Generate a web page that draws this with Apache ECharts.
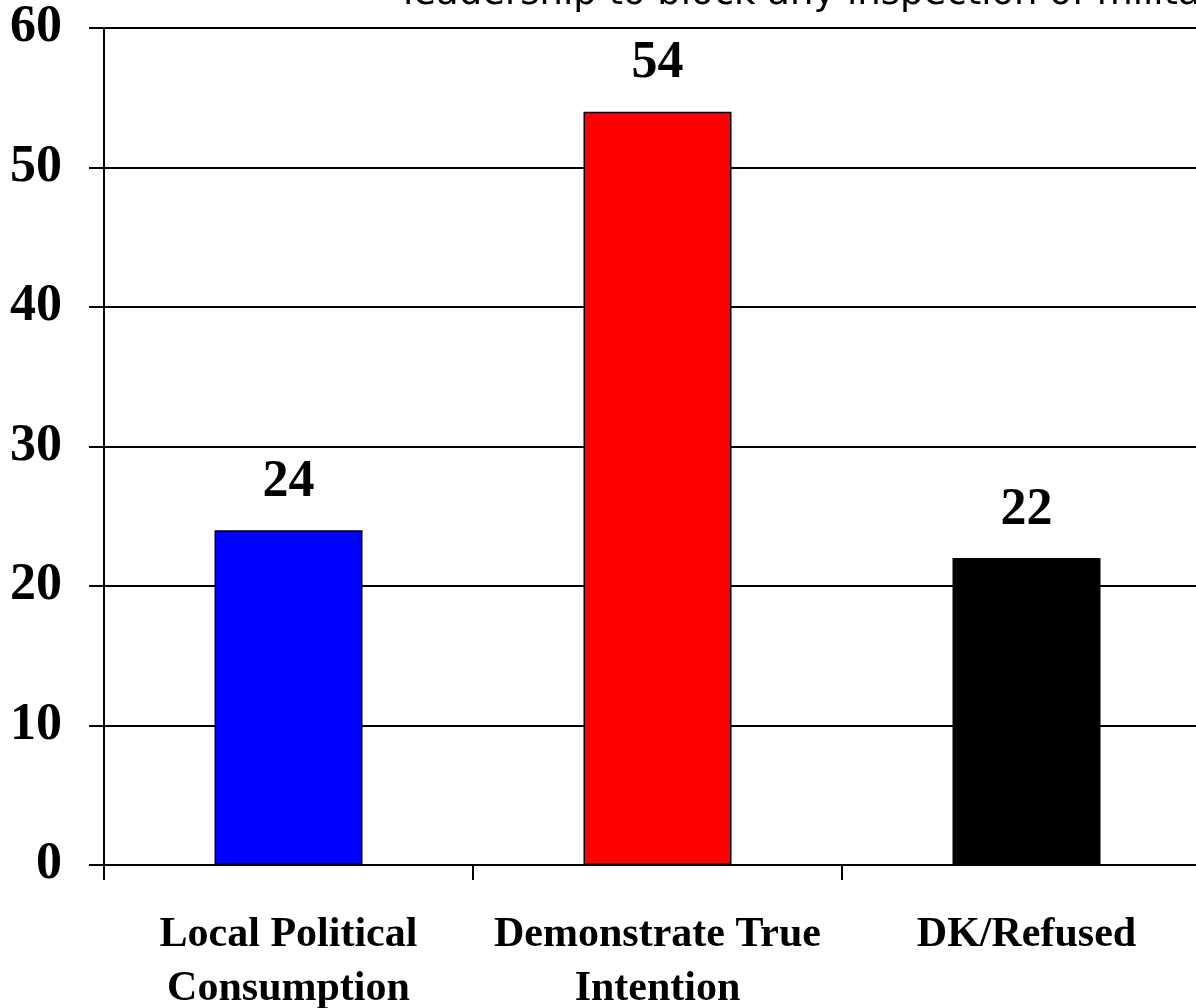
<!DOCTYPE html>
<html>
<head>
<meta charset="utf-8">
<script src="https://cdn.jsdelivr.net/npm/echarts@6/dist/echarts.min.js"></script>
<style>
html,body{margin:0;padding:0;background:#fff;}
#c{width:1196px;height:1008px;}
</style>
</head>
<body>
<div id="c"></div>
<script>
const categories = ['Local Political\nConsumption', 'Demonstrate True\nIntention', 'DK/Refused'];
const values = [24, 54, 22];
const barColors = ['#0000ff', '#ff0000', '#000000'];
const yTicks = [0, 10, 20, 30, 40, 50, 60];
const titleText = 'leadership to block any inspection of military sites';

const chart = echarts.init(document.getElementById('c'), null, {renderer: 'canvas'});
const serif = '"Liberation Serif", "Times New Roman", serif';
chart.setOption({
  animation: false,
  backgroundColor: '#ffffff',
  graphic: [{
    type: 'text',
    left: 403,
    top: -24,
    style: {
      text: titleText,
      font: '37px "DejaVu Sans", sans-serif',
      fill: '#000'
    }
  }],
  grid: {left: 104, top: 28, width: 1107, bottom: 143, containLabel: false, outerBoundsMode: 'none'},
  xAxis: {
    type: 'category',
    data: categories,
    axisLine: {lineStyle: {color: '#000', width: 2}},
    axisTick: {show: true, length: 15, alignWithLabel: false, lineStyle: {color: '#000', width: 2}},
    axisLabel: {
      color: '#000', fontFamily: serif, fontWeight: 'bold', fontSize: 42,
      lineHeight: 54, margin: 43, interval: 0
    }
  },
  yAxis: {
    type: 'value',
    min: 0, max: 60, interval: 10,
    axisLine: {show: true, lineStyle: {color: '#000', width: 2}},
    axisTick: {show: true, length: 15, lineStyle: {color: '#000', width: 2}},
    splitLine: {show: true, lineStyle: {color: '#000', width: 2}},
    axisLabel: {
      color: '#000', fontFamily: serif, fontWeight: 'bold', fontSize: 52,
      margin: 42,
      formatter: v => yTicks.includes(v) ? String(v) : ''
    }
  },
  series: [{
    type: 'bar',
    barWidth: 148,
    data: values.map((v, i) => ({value: v, itemStyle: {color: barColors[i]}})),
    itemStyle: {borderColor: '#000', borderWidth: 1.5},
    label: {
      show: true, position: 'top', distance: 22,
      color: '#000', fontFamily: serif, fontWeight: 'bold', fontSize: 52
    }
  }]
});
</script>
</body>
</html>
